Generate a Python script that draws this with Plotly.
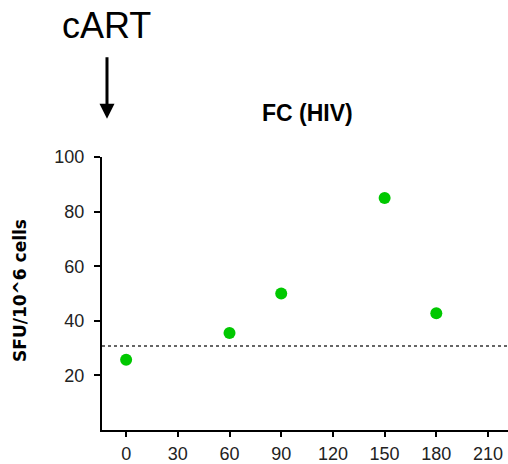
import plotly.graph_objects as go

days = [0, 60, 90, 150, 180]
sfu = [25.7, 35.5, 50, 85, 42.8]
cutoff = 30.8
x_ticks = [0, 30, 60, 90, 120, 150, 180, 210]
y_ticks = [20, 40, 60, 80, 100]

fig = go.Figure()
fig.add_trace(go.Scatter(x=days, y=sfu, mode="markers",
                         marker=dict(color="#00c800", size=12, line=dict(width=0)),
                         showlegend=False))

fig.add_shape(type="line", xref="paper", yref="y", x0=0, x1=1, y0=cutoff, y1=cutoff,
              line=dict(color="#333333", width=1.5, dash="dot"))

fig.add_annotation(text="cART", xref="paper", yref="paper", x=0.0123, y=1.48,
                   xanchor="center", yanchor="middle",
                   showarrow=False, font=dict(family="Liberation Sans, Arial", size=36, color="black"))
fig.add_annotation(text="", xref="paper", yref="paper", x=0.0123, y=1.14,
                   ax=0, ay=-63, showarrow=True, arrowhead=2, arrowwidth=3, arrowsize=1,
                   arrowcolor="black")
fig.add_annotation(text="<b>FC (HIV)</b>", xref="paper", yref="paper", x=0.505, y=1.16,
                   xanchor="center", yanchor="middle",
                   showarrow=False, font=dict(family="Liberation Sans, Arial", size=23, color="black"))
fig.add_annotation(text="<b>SFU/10^6 cells</b>", xref="paper", yref="paper", x=-0.202, y=0.513,
                   xanchor="center", yanchor="middle", textangle=-90,
                   showarrow=False, font=dict(family="DejaVu Sans", size=17, color="black"))

fig.update_xaxes(range=[-14, 221.6], tickvals=x_ticks, showline=True, linecolor="black",
                 linewidth=2, ticks="outside", ticklen=5, tickwidth=1.5, tickcolor="black",
                 showgrid=False, zeroline=False, ticklabelstandoff=1,
                 tickfont=dict(family="Liberation Sans, Arial", size=18, color="#222"))
fig.update_yaxes(range=[0, 100], tickvals=y_ticks, showline=True, linecolor="black",
                 linewidth=2, ticks="outside", ticklen=6, tickwidth=1.5, tickcolor="black",
                 showgrid=False, zeroline=False, ticklabelstandoff=6,
                 tickfont=dict(family="Liberation Sans, Arial", size=18, color="#222"))

fig.update_layout(width=508, height=464, margin=dict(l=102, r=0, t=157, b=32),
                  plot_bgcolor="white", paper_bgcolor="white")
fig.write_html("out.html")
